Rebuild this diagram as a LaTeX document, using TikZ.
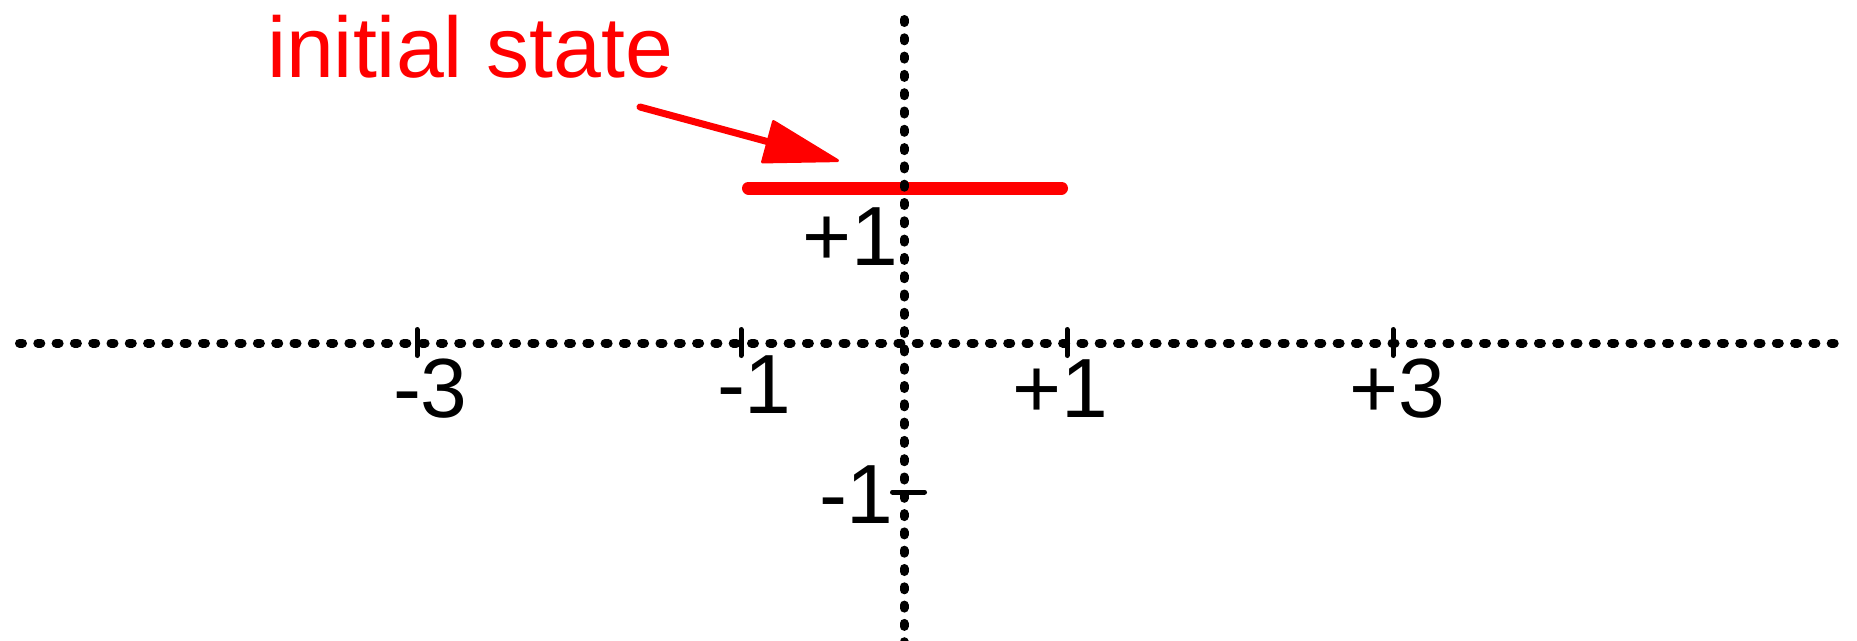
\documentclass[tikz,border=0pt]{standalone}
\usepackage{fontspec}
\setmainfont{Liberation Sans}
\usetikzlibrary{arrows.meta}
\begin{document}
\begin{tikzpicture}[x=1pt,y=-1pt,
  axisline/.style={line width=9pt, line cap=round, dash pattern=on 3pt off 15.3pt},
  tickmark/.style={line width=5pt, line cap=round},
  numlab/.style={inner sep=0pt, outer sep=0pt, anchor=base west, font=\fontsize{84}{90}\selectfont},
  redlab/.style={inner sep=0pt, outer sep=0pt, anchor=base west, text=red, font=\fontsize{86}{92}\selectfont},
  statebar/.style={red, line width=13pt, line cap=round},
  pointer/.style={red, line width=7pt, line cap=round, -{Triangle[length=79pt,width=45pt,line width=3pt,round]}}]
\useasboundingbox (0,0) rectangle (1857,640);
\clip (0,0) rectangle (1857,640);
% named points
\coordinate (hL) at (19.5,343);
\coordinate (hR) at (1844.5,343);
\coordinate (vT) at (904,19.5);
\coordinate (vB) at (904,660);
\coordinate (sL) at (748.5,188);
\coordinate (sR) at (1061.5,188);
\coordinate (aS) at (640,107);
\coordinate (aE) at (839,161);
% initial state bar
\draw[statebar] (sL) -- (sR);
% axes
\draw[axisline] (hL) -- (hR);
\draw[axisline] (vT) -- (vB);
% ticks
\draw[tickmark] (417,329.5) -- (417,355.5);
\draw[tickmark] (741,329.5) -- (741,355.5);
\draw[tickmark] (1067,329.5) -- (1067,355.5);
\draw[tickmark] (1393,329.5) -- (1393,355.5);
\draw[tickmark] (892.5,492) -- (924.5,492);
% labels
\node[numlab] (m3) at (393,417) {-3};
\node[numlab] (m1) at (717,413) {-1};
\node[numlab] (p1) at (1012,417) {+1};
\node[numlab] (p3) at (1349,417) {+3};
\node[numlab] (vp1) at (802,265) {+1};
\node[numlab] (vm1) at (819,523) {-1};
\node[redlab] (init) at (267,77) {initial state};
% arrow
\draw[pointer] (aS) -- (aE);
\end{tikzpicture}
\end{document}
